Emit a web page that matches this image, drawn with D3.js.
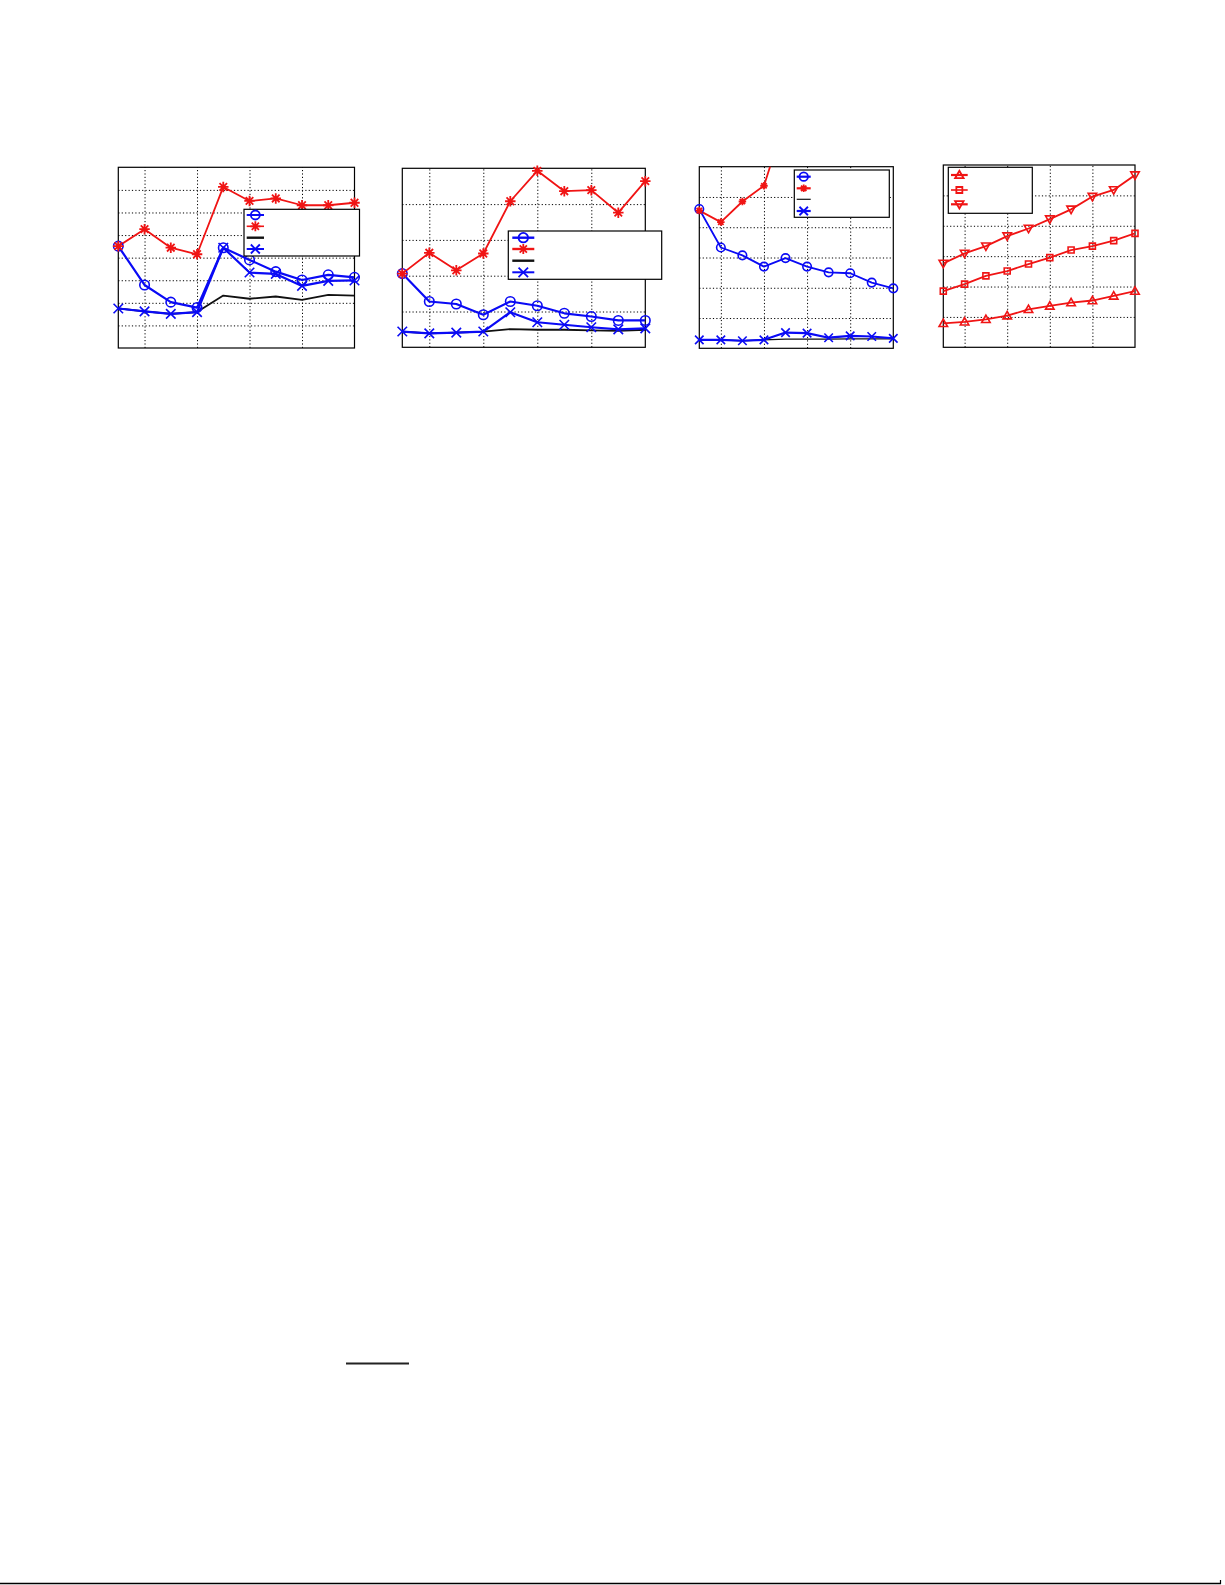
<!DOCTYPE html>
<html><head><meta charset="utf-8">
<script src="https://cdn.jsdelivr.net/npm/d3@7"></script>
<style>body{margin:0;background:#fff}svg{display:block}</style>
</head><body><svg id="c" width="1225" height="1585"></svg>
<script>
// ---------- DATA ----------
const xIdx = [1,2,3,4,5,6,7,8,9,10];
const xTicks = [2,4,6,8,10];

// Panel 1 (y in grid units 0..8)
const p1YTicks = [0,1,2,3,4,5,6,7,8];
const p1Circle = [4.51,2.79,2.03,1.79,4.44,3.90,3.38,3.01,3.24,3.13];
const p1Star   = [4.51,5.26,4.44,4.15,7.13,6.51,6.62,6.32,6.32,6.43];
const p1Black  = [1.75,1.62,1.51,1.59,2.32,2.18,2.28,2.13,2.35,2.32];
const p1Cross  = [1.75,1.62,1.51,1.59,4.44,3.34,3.28,2.75,2.97,2.99];

// Panel 2 (0..5)
const p2YTicks = [0,1,2,3,4,5];
const p2Circle = [2.06,1.28,1.21,0.91,1.28,1.16,0.95,0.86,0.75,0.75];
const p2Star   = [2.06,2.64,2.15,2.62,4.08,4.93,4.36,4.39,3.76,4.64];
const p2Black  = [0.44,0.39,0.41,0.44,0.51,0.49,0.49,0.47,0.46,0.49];
const p2Cross  = [0.44,0.39,0.41,0.44,0.98,0.70,0.63,0.56,0.50,0.53];

// Panel 3 (0..6)
const p3YTicks = [0,1,2,3,4,5,6];
const p3Circle = [4.60,3.33,3.07,2.70,2.98,2.70,2.51,2.48,2.17,1.98];
const p3Star   = [4.55,4.17,4.85,5.37,7.6,8.3,8.1,8.8,9.2,9.6];
const p3Black  = [0.28,0.28,0.25,0.28,0.30,0.30,0.30,0.31,0.31,0.31];
const p3Cross  = [0.28,0.28,0.25,0.28,0.52,0.50,0.35,0.41,0.39,0.33];

// Panel 4 (0..6)
const p4YTicks = [0,1,2,3,4,5,6];
const p4TriUp   = [0.79,0.84,0.92,1.04,1.25,1.36,1.47,1.54,1.69,1.85];
const p4Square  = [1.85,2.08,2.35,2.51,2.74,2.95,3.20,3.33,3.51,3.75];
const p4TriDown = [2.76,3.09,3.33,3.66,3.91,4.22,4.54,4.96,5.18,5.67];

// ---------- STYLE / LAYOUT ----------
const BLUE = "#0a0af5", RED = "#f01414", BLACK = "#111";

function markerPath(type, s) {
  const p = d3.path(), h = s/2;
  if (type === "circle") { p.moveTo(h,0); p.arc(0,0,h,0,2*Math.PI); }
  else if (type === "star") {
    p.moveTo(-h,0); p.lineTo(h,0); p.moveTo(0,-h); p.lineTo(0,h);
    const d = h*0.72; p.moveTo(-d,-d); p.lineTo(d,d); p.moveTo(-d,d); p.lineTo(d,-d);
  }
  else if (type === "cross") { p.moveTo(-h,-h); p.lineTo(h,h); p.moveTo(-h,h); p.lineTo(h,-h); }
  else if (type === "triup") { p.moveTo(0,-h); p.lineTo(h,h*0.75); p.lineTo(-h,h*0.75); p.closePath(); }
  else if (type === "tridown") { p.moveTo(0,h); p.lineTo(h,-h*0.75); p.lineTo(-h,-h*0.75); p.closePath(); }
  else if (type === "square") { p.rect(-h,-h,s,s); }
  return p.toString();
}

const panels = [
  { box:[118.3,354.5,167.3,348], yTicks:p1YTicks,
    series:[
      {v:p1Black, color:BLACK, w:1.8, m:null},
      {v:p1Cross, color:BLUE, w:2.2, m:"cross", ms:9.5},
      {v:p1Circle, color:BLUE, w:2.2, m:"circle", ms:9.5},
      {v:p1Star, color:RED, w:1.8, m:"star", ms:10.5},
    ],
    legend:{box:[244,359.5,209.3,256], rows:[215,226.3,237.7,249], lx:[246.7,264],
      items:[{color:BLUE,w:2,m:"circle",ms:9},{color:RED,w:1.6,m:"star",ms:10},{color:BLACK,w:2.4,m:null},{color:BLUE,w:2,m:"cross",ms:9}]}
  },
  { box:[402.3,645.3,168.3,347.3], yTicks:p2YTicks,
    series:[
      {v:p2Black, color:BLACK, w:1.8, m:null},
      {v:p2Cross, color:BLUE, w:2.2, m:"cross", ms:9.5},
      {v:p2Circle, color:BLUE, w:2.2, m:"circle", ms:9.5},
      {v:p2Star, color:RED, w:1.8, m:"star", ms:10.5},
    ],
    legend:{box:[508.3,661.7,231,279.3], rows:[237.7,249,260.7,272.3], lx:[512.3,534.3],
      items:[{color:BLUE,w:2.4,m:"circle",ms:9.5},{color:RED,w:2.4,m:"star",ms:10},{color:BLACK,w:2.4,m:null},{color:BLUE,w:2,m:"cross",ms:9.5}]}
  },
  { box:[699.3,893.3,166.7,348.3], yTicks:p3YTicks,
    series:[
      {v:p3Black, color:BLACK, w:1.3, m:null},
      {v:p3Cross, color:BLUE, w:2.2, m:"cross", ms:8.5},
      {v:p3Circle, color:BLUE, w:1.8, m:"circle", ms:8.5},
      {v:p3Star, color:RED, w:1.8, m:"star", ms:7.5},
    ],
    legend:{box:[794.3,889.3,170,217.3], rows:[176.7,188.3,199.3,211], lx:[796.7,810.7],
      items:[{color:BLUE,w:2.2,m:"circle",ms:8.5},{color:RED,w:2.2,m:"star",ms:7.5},{color:BLACK,w:1.2,m:null},{color:BLUE,w:2.2,m:"cross",ms:8.5}]}
  },
  { box:[943.3,1135,165,347.3], yTicks:p4YTicks,
    series:[
      {v:p4TriUp, color:RED, w:1.8, m:"triup", ms:8.5},
      {v:p4Square, color:RED, w:1.8, m:"square", ms:6},
      {v:p4TriDown, color:RED, w:1.8, m:"tridown", ms:8.5},
    ],
    legend:{box:[948.3,1032.3,167.3,213.3], rows:[175,190,204.3], lx:[951,967.7],
      items:[{color:RED,w:2.2,m:"triup",ms:8.5},{color:RED,w:1.6,m:"square",ms:6},{color:RED,w:2.2,m:"tridown",ms:8.5}]}
  },
];

const svg = d3.select("#c");
svg.append("rect").attr("width",1225).attr("height",1585).attr("fill","#fff");

panels.forEach((P, pi) => {
  const [L,R,T,B] = P.box;
  const yMax = d3.max(P.yTicks);
  const x = d3.scaleLinear().domain([1,10]).range([L,R]);
  const y = d3.scaleLinear().domain([0, yMax]).range([B,T]);
  const g = svg.append("g");
  const clipId = "clip"+pi;
  svg.append("defs").append("clipPath").attr("id",clipId)
    .append("rect").attr("x",L).attr("y",T).attr("width",R-L).attr("height",B-T);

  // grid via axes
  const gx = g.append("g").attr("transform",`translate(0,${B})`)
    .call(d3.axisBottom(x).tickValues(xTicks.slice(0,-1)).tickSize(-(B-T)).tickFormat(""));
  const gy = g.append("g").attr("transform",`translate(${L},0)`)
    .call(d3.axisLeft(y).tickValues(P.yTicks.slice(1,-1)).tickSize(-(R-L)).tickFormat(""));
  [gx,gy].forEach(a => {
    a.select(".domain").remove();
    a.selectAll(".tick line").attr("stroke","#000").attr("stroke-width",1).attr("stroke-dasharray","1.2,2.2");
  });

  // frame
  g.append("rect").attr("x",L).attr("y",T).attr("width",R-L).attr("height",B-T)
    .attr("fill","none").attr("stroke","#000").attr("stroke-width",1.2);

  const plot = g.append("g").attr("clip-path",`url(#${clipId})`);
  const line = d3.line().x((d,i)=>x(xIdx[i])).y(d=>y(d));
  P.series.forEach(S => {
    plot.append("path").attr("d",line(S.v)).attr("fill","none")
      .attr("stroke",S.color).attr("stroke-width",S.w).attr("stroke-linejoin","round");
    if (S.m) {
      const pts = S.v.map((d,i)=>({xv:xIdx[i], yv:d})).filter(p=>p.yv<=yMax && p.yv>=0);
      g.selectAll(null).data(pts).enter().append("path")
        .attr("transform",p=>`translate(${x(p.xv)},${y(p.yv)})`)
        .attr("d",markerPath(S.m,S.ms)).attr("fill","none")
        .attr("stroke",S.color).attr("stroke-width",S.m==="star"?1.8:1.6);
    }
  });

  // legend
  const Lg = P.legend;
  g.append("rect").attr("x",Lg.box[0]).attr("y",Lg.box[2]).attr("width",Lg.box[1]-Lg.box[0]).attr("height",Lg.box[3]-Lg.box[2])
    .attr("fill","#fff").attr("stroke","#000").attr("stroke-width",1.2);
  Lg.items.forEach((it,k) => {
    const yy = Lg.rows[k];
    g.append("line").attr("x1",Lg.lx[0]).attr("x2",Lg.lx[1]).attr("y1",yy).attr("y2",yy)
      .attr("stroke",it.color).attr("stroke-width",it.w);
    if (it.m) g.append("path").attr("transform",`translate(${(Lg.lx[0]+Lg.lx[1])/2},${yy})`)
      .attr("d",markerPath(it.m,it.ms)).attr("fill","none").attr("stroke",it.color).attr("stroke-width",1.8);
  });
});

// footnote rule and page rule
svg.append("line").attr("x1",346).attr("x2",409).attr("y1",1363.5).attr("y2",1363.5).attr("stroke","#222").attr("stroke-width",2);
svg.append("line").attr("x1",0).attr("x2",1221).attr("y1",1583.5).attr("y2",1583.5).attr("stroke","#000").attr("stroke-width",1.5);
svg.append("line").attr("x1",1220.5).attr("x2",1220.5).attr("y1",1580).attr("y2",1584).attr("stroke","#000").attr("stroke-width",1.2);
</script>
</body></html>
